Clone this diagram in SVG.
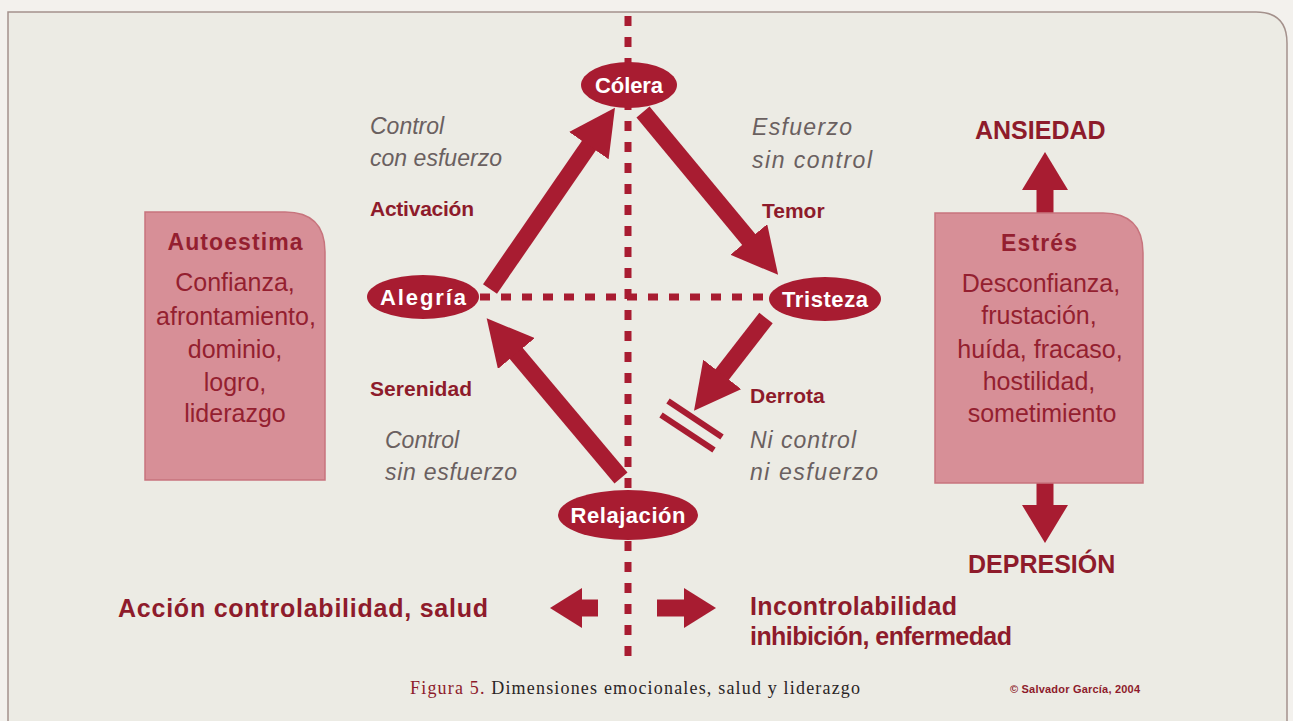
<svg xmlns="http://www.w3.org/2000/svg" width="1293" height="721" viewBox="0 0 1293 721">
<defs>
<style>
.bg{fill:#f3f1ed}
.panel{fill:#ecebe4;stroke:#a4918c;stroke-width:1.5}
.ell{fill:#a81c31}
.elt{font-family:"Liberation Sans",Arial,sans-serif;font-weight:bold;font-size:22px;fill:#fff;text-anchor:middle}
.lbl{font-family:"Liberation Sans",Arial,sans-serif;font-weight:bold;font-size:21px;fill:#8e1b2b}
.big{font-family:"Liberation Sans",Arial,sans-serif;font-weight:bold;font-size:25px;fill:#8e1b2b}
.it{font-family:"Liberation Sans",Arial,sans-serif;font-style:italic;font-size:23px;fill:#6a6060}
.box{fill:#d78f97;stroke:#c7747d;stroke-width:1.5}
.bt{font-family:"Liberation Sans",Arial,sans-serif;font-size:25px;fill:#941f30;text-anchor:middle}
.bh{font-family:"Liberation Sans",Arial,sans-serif;font-weight:bold;font-size:23px;fill:#941f30;text-anchor:middle}
.shaft{stroke:#a81c31;stroke-width:17;fill:none}
.dash{stroke:#a81c31;stroke-width:7;stroke-dasharray:10 11;fill:none}
.bar{stroke:#a81c31;stroke-width:6;fill:none}
.cap{font-family:"Liberation Serif","Times New Roman",serif;font-size:18px;fill:#2a2526}
.copy{font-family:"Liberation Sans",Arial,sans-serif;font-weight:bold;font-size:11px;fill:#8e1b2b}
</style>
<marker id="headD" markerUnits="userSpaceOnUse" markerWidth="46" markerHeight="48" refX="2" refY="24" orient="auto" viewBox="0 0 46 48">
<path d="M0,0 L46,24 L0,48 z" fill="#a81c31"/>
</marker>
<marker id="headV" markerUnits="userSpaceOnUse" markerWidth="38" markerHeight="46" refX="2" refY="23" orient="auto" viewBox="0 0 38 46">
<path d="M0,0 L38,23 L0,46 z" fill="#a81c31"/>
</marker>
<marker id="headH" markerUnits="userSpaceOnUse" markerWidth="32" markerHeight="40" refX="2" refY="20" orient="auto" viewBox="0 0 32 40">
<path d="M0,0 L32,20 L0,40 z" fill="#a81c31"/>
</marker>
</defs>
<rect class="bg" x="0" y="0" width="1293" height="721"/>
<path class="panel" d="M8,722 L8,12 L1256,12 Q1287,12 1287,43 L1287,722"/>

<g id="connectors">
<line class="dash" x1="628" y1="16" x2="628" y2="657"/>
<line class="dash" x1="480" y1="297" x2="770" y2="297"/>
<line class="shaft" x1="490" y1="289" x2="590" y2="144" marker-end="url(#headD)"/>
<line class="shaft" x1="643" y1="112" x2="750" y2="241" marker-end="url(#headD)"/>
<line class="shaft" x1="766" y1="318" x2="721" y2="376" marker-end="url(#headD)"/>
<line class="shaft" x1="621" y1="478" x2="515" y2="352" marker-end="url(#headD)"/>
<line class="bar" x1="668" y1="401" x2="722" y2="437"/>
<line class="bar" x1="661" y1="415" x2="714" y2="450"/>
<line class="shaft" x1="1045" y1="214" x2="1045" y2="188" marker-end="url(#headV)"/>
<line class="shaft" x1="1045" y1="482" x2="1045" y2="507" marker-end="url(#headV)"/>
<line class="shaft" x1="598" y1="608" x2="580" y2="608" marker-end="url(#headH)"/>
<line class="shaft" x1="657" y1="608" x2="686" y2="608" marker-end="url(#headH)"/>
</g>

<g id="colera">
<ellipse class="ell" cx="629" cy="85" rx="48" ry="23"/>
<text class="elt" x="629" y="93" textLength="68">Cólera</text>
</g>
<g id="alegria">
<ellipse class="ell" cx="423" cy="297" rx="56" ry="22"/>
<text class="elt" x="423" y="305" textLength="86">Alegría</text>
</g>
<g id="tristeza">
<ellipse class="ell" cx="825" cy="299" rx="56" ry="22"/>
<text class="elt" x="825" y="307" textLength="86">Tristeza</text>
</g>
<g id="relajacion">
<ellipse class="ell" cx="628" cy="515" rx="70" ry="25"/>
<text class="elt" x="628" y="523" textLength="115">Relajación</text>
</g>

<g id="autoestima">
<path class="box" d="M145,212 L285,212 Q325,212 325,252 L325,480 L145,480 Z"/>
<text class="bh" x="235" y="250" textLength="135">Autoestima</text>
<text class="bt" x="235" y="291">Confianza,</text>
<text class="bt" x="236" y="325">afrontamiento,</text>
<text class="bt" x="235" y="358">dominio,</text>
<text class="bt" x="235" y="391">logro,</text>
<text class="bt" x="235" y="422">liderazgo</text>
</g>

<g id="estres">
<path class="box" d="M935,213 L1103,213 Q1143,213 1143,253 L1143,483 L935,483 Z"/>
<text class="bh" x="1039" y="251" textLength="76">Estrés</text>
<text class="bt" x="1041" y="292">Desconfianza,</text>
<text class="bt" x="1039" y="324">frustación,</text>
<text class="bt" x="1040" y="358">huída, fracaso,</text>
<text class="bt" x="1039" y="390">hostilidad,</text>
<text class="bt" x="1042" y="422">sometimiento</text>
</g>

<g id="labels">
<text class="it" x="370" y="134">Control</text>
<text class="it" x="370" y="166" textLength="132">con esfuerzo</text>
<text class="lbl" x="370" y="216" textLength="104">Activación</text>
<text class="it" x="752" y="135" textLength="100">Esfuerzo</text>
<text class="it" x="752" y="168" textLength="120">sin control</text>
<text class="lbl" x="762" y="218">Temor</text>
<text class="lbl" x="370" y="396" textLength="102">Serenidad</text>
<text class="it" x="385" y="448">Control</text>
<text class="it" x="385" y="480" textLength="132">sin esfuerzo</text>
<text class="lbl" x="750" y="403">Derrota</text>
<text class="it" x="750" y="448" textLength="106">Ni control</text>
<text class="it" x="750" y="480" textLength="128">ni esfuerzo</text>
<text class="big" x="975" y="139">ANSIEDAD</text>
<text class="big" x="968" y="573">DEPRESIÓN</text>
<text class="big" x="118" y="617" textLength="370">Acción controlabilidad, salud</text>
<text class="big" x="750" y="615" textLength="207">Incontrolabilidad</text>
<text class="big" x="750" y="645" textLength="262">inhibición, enfermedad</text>
</g>

<g id="caption">
<text class="cap" x="410" y="694" textLength="450"><tspan fill="#8e1b2b">Figura 5.</tspan> Dimensiones emocionales, salud y liderazgo</text>
<text class="copy" x="1010" y="693" textLength="130">© Salvador García, 2004</text>
</g>
</svg>
